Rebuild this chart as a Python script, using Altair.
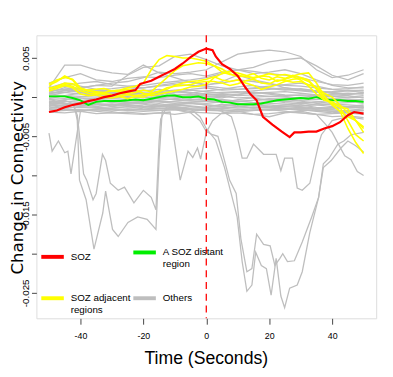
import altair as alt
import pandas as pd

# ---------------- data (values in units of 1e-4 change in connectivity) -------------
GROUPS = ["SOZ", "A SOZ distant region", "SOZ adjacent regions", "Others"]
COLORS = ["#ff0000", "#00ee00", "#ffff00", "#bebebe"]

T_GRID = [-50, -45, -40, -35, -30, -25, -20, -15, -10, -5, 0, 5, 10, 15, 20, 25, 30, 35, 40, 45, 50]
T_FINE = [-50, -47.5, -45, -42.5, -40, -37.5, -35, -32.5, -30, -27.5, -25, -22.5, -20, -17.5, -15,
          -12.5, -10, -7.5, -5, -2.5, 0, 2.5, 5, 7.5, 10, 12.5, 15, 17.5, 20, 22.5, 25, 27.5, 30,
          32.5, 35, 37.5, 40, 42.5, 45, 47.5, 50]

RED_T = [-50, -47.5, -45, -42.5, -40, -37.5, -35, -32.5, -30, -27.5, -25, -22.5, -21, -20, -17.5,
         -15, -12.5, -10, -7.5, -5, -2.5, 0, 2, 3, 5, 7.5, 10, 12.5, 14, 16, 18, 21, 24, 26.5, 28,
         30, 32.5, 35, 37.5, 40, 42.5, 45, 47, 50]
RED_V = [-19, -17, -13, -10, -8, -5, -3, 0, 2, 5, 7, 9, 17, 18, 21, 26, 31, 36, 43, 51, 58, 62, 60,
         52, 42, 36, 27, 12, 4, -4, -25, -35, -44, -51, -45, -45, -44, -44, -40, -37, -32, -23, -19, -21]

GREEN_V = [1, 1, 1, -1, -4, -10, -6, -5, -5, -5, -4, -3, -4, -2, 0, 2, 2, 0, 0, 1, -2, -3, -6, -7,
           -9, -9, -9, -8, -6, -4, -3, -2, -1, -2, 0, -3, -4, -4, -5, -5, -6]

YELLOW = {
    "y1": [15, 20, 27, 22, 10, 8, 7, 6, 8, 9, 12, 14, 18, 35, 48, 53, 52, 50, 50, 48, 46, 40, 32, 29,
           28, 26, 25, 27, 30, 28, 29, 27, 30, 31, 18, 2, -10, -18, -40, -58, -72],
    "y2": [17, 22, 25, 23, 12, 8, 6, 3, 2, 4, 5, 6, 9, 7, 16, 25, 34, 40, 42, 44, 43, 40, 36, 30, 26,
           27, 30, 24, 22, 26, 24, 28, 25, 22, 10, -3, -8, -13, -30, -48, -56],
    "y3": [12, 13, 16, 14, 8, 5, 4, 5, 3, 1, -2, 1, 0, 4, 8, 10, 15, 18, 20, 21, 23, 26, 22, 20, 22,
           18, 15, 10, 13, 16, 20, 23, 24, 20, 12, 5, 0, -10, -20, -30, -40],
    "y4": [10, 14, 18, 17, 11, 9, 10, 11, 8, 7, 10, 9, 5, 2, 4, 6, 8, 10, 13, 14, 16, 25, 30, 33, 31,
           28, 24, 27, 26, 20, 23, 26, 22, 14, 4, -4, -6, -12, -15, -30, -45],
    "y5": [8, 11, 15, 12, 4, 2, 3, 0, -1, 1, 3, 2, 3, 5, 7, 12, 14, 15, 16, 19, 20, 20, 18, 15, 17,
           21, 23, 18, 17, 22, 21, 19, 20, 16, 12, 0, -10, -18, -25, -30, -38],
}

GRAY_BAND = {
    "g01": [12, 18, 14, 10, 11, 13, 12, 15, 18, 20, 16, 18, 22, 20, 17, 15, 14, 12, 10, 11, 13],
    "g02": [8, 10, 7, 6, 5, 8, 9, 7, 9, 10, 12, 9, 10, 11, 12, 10, 8, 6, 7, 9, 8],
    "g03": [5, 6, 4, 3, 2, 4, 5, 6, 4, 3, 5, 6, 7, 5, 6, 7, 5, 3, 4, 5, 4],
    "g04": [3, 2, 1, 0, 2, 1, 3, 2, 1, 2, 3, 4, 2, 3, 1, 2, 3, 2, 1, 0, 2],
    "g05": [0, 1, -1, -2, -1, 0, -1, 1, 0, -1, 0, 1, -1, 0, 1, 0, -1, 0, 1, -1, 0],
    "g06": [-3, -2, -4, -3, -2, -3, -4, -2, -3, -4, -2, -3, -5, -4, -3, -2, -4, -3, -2, -3, -4],
    "g07": [-6, -5, -7, -6, -5, -7, -6, -5, -6, -7, -8, -6, -5, -7, -6, -5, -7, -6, -8, -7, -6],
    "g08": [-9, -8, -10, -9, -11, -9, -8, -10, -9, -8, -10, -11, -9, -10, -8, -9, -11, -10, -9, -10, -11],
    "g09": [-12, -14, -12, -13, -14, -12, -13, -11, -12, -14, -13, -12, -14, -13, -12, -14, -13, -15, -13, -12, -14],
    "g10": [-16, -15, -17, -16, -18, -15, -16, -17, -16, -15, -17, -16, -18, -17, -16, -15, -17, -16, -18, -17, -15],
    "g11": [-19, -20, -18, -21, -20, -19, -21, -20, -22, -19, -20, -21, -20, -22, -21, -19, -20, -22, -21, -20, -19],
    "g12": [18, 25, 30, 22, 20, 24, 26, 25, 28, 30, 27, 32, 35, 33, 30, 28, 25, 20, 16, 15, 18],
    "g13": [2, 6, 10, 9, 8, 10, 12, 14, 16, 15, 14, 12, 10, 12, 14, 16, 18, 14, 10, 8, 6],
    "g14": [-5, -8, -10, -12, -10, -8, -6, -4, -2, 0, -2, -4, -6, -4, -2, -3, -5, -8, -10, -12, -10],
    "g15": [-2, 2, 5, 8, 6, 4, 2, 5, 8, 6, 3, 2, 4, 6, 5, 3, 2, 0, -2, -4, -3],
    "g16": [-10, -12, -8, -6, -5, -4, -6, -8, -5, -3, -4, -6, -8, -10, -12, -10, -8, -10, -12, -14, -13],
    "g17": [6, 12, 9, 4, 3, 6, 8, 10, 7, 5, 8, 10, 13, 15, 11, 9, 11, 8, 5, 3, 6],
    "g18": [-14, -10, -7, -9, -12, -10, -12, -14, -16, -18, -16, -14, -12, -10, -12, -14, -16, -18, -20, -18, -17],
    "g19": [10, 14, 11, 7, 5, 7, 5, 3, 6, 9, 7, 5, 6, 8, 10, 12, 9, 7, 6, 8, 9],
    "g20": [-7, -3, -1, -4, -7, -5, -3, -6, -8, -6, -5, -7, -3, -1, -4, -7, -9, -6, -4, -5, -8],
    "g21": [4, 9, 6, 2, 0, 3, 1, -2, 2, 4, 1, -1, 3, 6, 4, 1, -2, 1, 3, 2, -1],
    "g22": [-11, -6, -4, -8, -10, -7, -9, -12, -10, -11, -13, -9, -11, -14, -13, -11, -12, -14, -15, -13, -12],
    "u1": [12, 41, 41, 35, 31, 29, 41, 31, 25, 19, 15, 20, 28, 22, 18, 12, 10, 8, 6, 4, 5],
    "u2": [8, 10, 12, 15, 18, 20, 25, 32, 30, 32, 35, 45, 55, 58, 60, 58, 52, 35, 25, 28, 35],
    "u3": [5, 8, 12, 15, 14, 28, 38, 40, 52, 55, 48, 40, 35, 30, 32, 35, 30, 22, 15, 12, 12],
    "u4": [10, 15, 18, 20, 16, 14, 15, 18, 20, 22, 25, 30, 35, 38, 45, 48, 50, 40, 28, 22, 30],
}

B1_T = [-50, -49, -47, -45, -44, -43, -41, -40, -35, -30, -25, -20, -15, -10, -5, 0, 5, 10, 15, 20,
        25, 30, 35, 40, 45, 50]
B1_V = [-46, -69, -56, -71, -69, -98, -44, -18, -15, -14, -12, -15, -14, -13, -16, -15, -14, -12,
        -13, -14, -15, -16, -17, -18, -20, -22]
B2_T = [-50, -40, -30, -20, -15, -11.5, -8.3, -5.8, -4.3, -2.8, -1.8, 0, 2, 5, 10, 15, 20, 25, 30,
        35, 40, 45, 50]
B2_V = [-18, -16, -20, -22, -20, -19, -106, -69, -77, -65, -79, -45, -30, -20, -18, -22, -25, -20,
        -18, -22, -25, -24, -26]
B3_T = [-50, -40, -30, -20, -10, 0, 10, 20, 30, 35, 38, 40, 42, 44, 46, 48, 50]
B3_V = [-14, -13, -15, -16, -14, -17, -18, -16, -20, -22, -35, -45, -60, -75, -80, -95, -100]
L1_T = [-50, -47.5, -45, -42.5, -41, -40, -39, -38, -36, -35, -33, -32, -30.5, -28, -26, -23, -20,
        -17.5, -16, -15, -14.5, -12.5, -10, -5, 0, 5, 10, 15, 20, 25, 30, 35, 40, 45, 50]
L1_V = [-3, -5, -4, -8, -23, -60, -98, -106, -131, -123, -73, -81, -110, -119, -115, -135, -119,
        -128, -144, -56, -28, -12, -10, -8, -10, -12, -9, -11, -10, -12, -10, -13, -14, -12, -13]
L2_T = [-50, -45, -42, -41, -40.3, -38.2, -35.7, -32.9, -32, -29.8, -28, -24.9, -21.8, -18.8, -16,
        -15, -14, -12, -10, -5, 0, 5, 10, 15, 20, 25, 30, 35, 40, 45, 50]
L2_V = [-6, -8, -10, -30, -106, -131, -194, -148, -120, -169, -178, -160, -153, -156, -169, -78,
        -18, -15, -14, -16, -15, -14, -16, -15, -17, -16, -14, -15, -16, -18, -17]
R1_T = [-50, -40, -30, -20, -10, -5, -2, 0, 2, 3.7, 5.8, 7.4, 9.5, 11, 12.9, 14.5, 16, 18.2, 20.3,
        21.8, 23.4, 24.3, 25.8, 28, 30.5, 33.5, 35.7, 37.2, 39, 41.8, 43.7, 46, 50]
R1_V = [-15, -17, -16, -18, -16, -20, -30, -44, -48, -50, -81, -106, -123, -181, -223, -219, -175,
        -188, -190, -215, -206, -200, -210, -209, -185, -153, -128, -85, -78, -60, -56, -48, -45]
R2_T = [-50, -40, -30, -20, -10, -5, -2, 0, 3, 5.8, 9.8, 11.4, 12.9, 14.5, 15.7, 17.5, 19.1, 20.6,
        22.2, 23.7, 24.9, 26.5, 28.9, 30.5, 32.9, 35.7, 37.2, 39.7, 42.8, 45, 47.5, 50]
R2_V = [-8, -10, -9, -11, -12, -15, -25, -40, -55, -90, -153, -210, -248, -240, -198, -215, -219,
        -253, -206, -254, -269, -244, -240, -223, -173, -128, -90, -81, -65, -56, -62, -70]
R3_T = [-50, -40, -30, -20, -10, 0, 5, 8, 9.5, 11.4, 12.9, 15, 18.2, 22.2, 23.7, 24.9, 27.4, 28.9,
        30.5, 32.9, 35.7, 36.6, 40, 45, 50]
R3_V = [-10, -11, -9, -12, -10, -14, -18, -25, -44, -78, -78, -60, -73, -73, -94, -78, -78, -116,
        -119, -110, -60, -48, -30, -25, -28]

Y_TICKS = [-0.025, -0.02, -0.015, -0.01, -0.005, 0.0, 0.005]
X_TICKS = [-40, -20, 0, 20, 40]
ONSET = [0]

# ---------------- build long table ----------------
rows = []


def add(name, group, ts, vs):
    for t, v in zip(ts, vs):
        rows.append({"line": name, "group": group, "t": t, "v": v / 10000.0})


for name, vals in GRAY_BAND.items():
    add(name, "Others", T_GRID, vals)
for name, ts, vs in [("b1", B1_T, B1_V), ("b2", B2_T, B2_V), ("b3", B3_T, B3_V),
                     ("l1", L1_T, L1_V), ("l2", L2_T, L2_V), ("r1", R1_T, R1_V),
                     ("r2", R2_T, R2_V), ("r3", R3_T, R3_V)]:
    add(name, "Others", ts, vs)
add("green", "A SOZ distant region", T_FINE, GREEN_V)
for name, vals in YELLOW.items():
    add(name, "SOZ adjacent regions", T_FINE, vals)
add("red", "SOZ", RED_T, RED_V)

df = pd.DataFrame(rows)

SANS = "Liberation Sans, Arial, sans-serif"

legend = alt.Legend(
    title=None, orient="none", legendX=3, legendY=208, columns=2, direction="horizontal",
    symbolType="stroke", symbolStrokeWidth=4, symbolSize=529, symbolOpacity=1,
    labelFont=SANS, labelFontSize=10, labelColor="#000000", labelOffset=5,
    columnPadding=-19, rowPadding=16, padding=0, labelLimit=200,
    labelExpr="datum.label == 'A SOZ distant region' ? ['A SOZ distant', 'region'] : "
              "datum.label == 'SOZ adjacent regions' ? ['SOZ adjacent', 'regions'] : datum.label",
)

color = alt.Color("group:N", scale=alt.Scale(domain=GROUPS, range=COLORS), legend=legend)

x = alt.X("t:Q", scale=alt.Scale(domain=[-54, 54], nice=False, zero=False),
          axis=alt.Axis(values=X_TICKS, title="Time (Seconds)", grid=False, domain=False,
                        tickSize=6, tickColor="#444444", labelFont=SANS, labelFontSize=9,
                        labelColor="#000000", labelPadding=8,
                        labelExpr="(datum.value < 0 ? '-' : '') + format(abs(datum.value), 'd')",
                        titleFont=SANS, titleFontSize=18, titleFontWeight="normal",
                        titleColor="#000000", titleX=173, titleY=46, titleBaseline="alphabetic",
                        titleAlign="center", titleAnchor="middle"))
y = alt.Y("v:Q", scale=alt.Scale(domain=[-0.02825, 0.0079], nice=False, zero=False),
          axis=alt.Axis(values=Y_TICKS, title="Change in Connectivity", grid=False, domain=False,
                        tickSize=5, tickColor="#444444", labelFont=SANS,
                        labelFontSize=10, labelColor="#000000", labelAngle=270,
                        labelAlign="center", labelBaseline="bottom", labelPadding=1,
                        labelExpr="abs(round(datum.value * 1000)) % 10 == 5 ? "
                                  "(datum.value < 0 ? '-' : '') + format(abs(datum.value), '.3f') : ''",
                        titleFont="DejaVu Sans", titleFontSize=17, titleFontWeight="normal",
                        titleColor="#000000", titleAngle=270, titleX=-19, titleY=145,
                        titleBaseline="middle", titleAlign="center", titleAnchor="middle"))

base = alt.Chart(df)
gray = base.transform_filter(alt.datum.group == "Others").mark_line(strokeWidth=1.3).encode(
    x=x, y=y, color=color, detail="line:N")
green = base.transform_filter(alt.datum.group == "A SOZ distant region").mark_line(strokeWidth=2).encode(
    x=x, y=y, color=color, detail="line:N")
yellow = base.transform_filter(alt.datum.group == "SOZ adjacent regions").mark_line(strokeWidth=1.6).encode(
    x=x, y=y, color=color, detail="line:N")
red = base.transform_filter(alt.datum.group == "SOZ").mark_line(strokeWidth=2.2).encode(
    x=x, y=y, color=color, detail="line:N")
onset = alt.Chart(pd.DataFrame({"t": ONSET})).mark_rule(
    color="#ff0000", strokeDash=[7, 5], strokeWidth=1.3).encode(x=alt.X("t:Q"))

chart = alt.layer(gray, green, yellow, red, onset).properties(
    width=347, height=289,
    padding={"left": 29, "top": 24, "right": 9, "bottom": 54},
    autosize=alt.AutoSizeParams(type="none"),
).configure_view(stroke="#999999", strokeWidth=1).configure(background="#ffffff")

chart.save("out.html", embed_options={"renderer": "svg", "actions": False})
